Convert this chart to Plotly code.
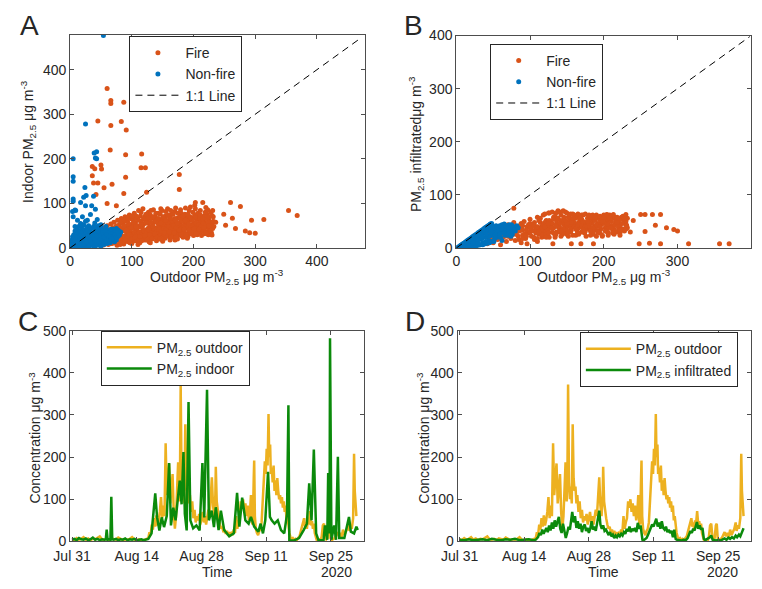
import pandas as pd
import plotly.graph_objects as go

# ---------------- Panel A: outdoor vs indoor ----------------
fire_a_pts = [
    (32,18),(34,8),(35,26),(37,12),(38,30),(40,6),(41,20),(42,34),(44,15),(45,27),
    (46,9),(47,38),(49,22),(50,14),(51,42),(52,30),(54,7),(55,18),(56,46),(57,26),
    (58,35),(59,12),(60,50),(61,22),(62,8),(63,40),(64,28),(65,16),(66,54),(67,33),
    (68,10),(69,45),(70,24),(71,58),(72,36),(73,14),(74,48),(75,28),(76,6),(77,62),
    (78,40),(79,20),(80,52),(81,32),(82,12),(83,66),(84,44),(85,26),(86,56),(87,9),
    (88,38),(89,70),(90,20),(91,48),(92,30),(93,60),(94,14),(95,42),(96,74),(97,25),
    (98,52),(99,35),(100,10),(101,64),(102,45),(103,22),(104,78),(105,32),(106,56),(107,16),
    (108,40),(109,68),(110,27),(111,84),(112,50),(113,12),(114,36),(115,60),(116,22),(117,46),
    (118,88),(119,30),(120,55),(121,18),(122,72),(123,40),(124,26),(125,62),(126,35),(127,80),
    (128,14),(129,48),(130,30),(131,66),(132,42),(133,20),(134,56),(135,86),(136,36),(137,24),
    (138,70),(139,45),(140,16),(141,58),(142,32),(143,78),(144,50),(145,26),(146,40),(147,64),
    (148,20),(149,84),(150,46),(151,30),(152,60),(153,38),(154,22),(155,72),(156,52),(157,34),
    (158,88),(159,44),(160,26),(161,64),(162,18),(163,54),(164,38),(165,76),(166,30),(167,48),
    (168,62),(169,24),(170,82),(171,42),(172,56),(173,32),(174,20),(175,68),(176,46),(177,36),
    (178,58),(179,28),(180,78),(181,50),(182,40),(183,24),(184,64),(185,34),(186,54),(187,44),
    (188,72),(189,30),(190,58),(191,26),(192,48),(193,84),(194,38),(195,62),(196,32),(197,52),
    (198,42),(199,68),(200,28),(201,56),(202,96),(203,36),(204,46),(205,64),(206,30),(207,74),
    (208,40),(209,54),(210,34),(211,60),(212,44),(213,28),(214,70),(215,50),(216,38),(217,58),
    (218,32),(219,66),(220,46),(221,36),(222,76),(223,54),(224,30),(225,62),(226,42),(227,48),
    (228,80),(229,34),(230,56),(231,44),(232,70),(110,8),(130,12),(150,15),(170,18),(190,22),
    (62,18),(66,24),(70,30),(74,20),(78,26),(82,34),(86,22),(90,28),(94,36),(98,24),
    (102,30),(106,38),(110,22),(114,28),(118,40),(122,32),(126,44),(130,36),(134,28),(138,40),
    (142,46),(146,34),(150,40),(154,48),(158,36),(162,42),(166,52),(170,38),(174,44),(178,48),
    (80,16),(88,14),(96,18),(104,16),(112,20),(120,24),(128,22),(136,26),(144,30),(152,26),
    (160,32),(168,28),(176,30),(184,38),(192,36),(200,40),(208,46),(216,42),(224,38),(100,44),
    (42,10),(48,16),(52,20),(56,12),(60,26),(64,20),(68,16),(72,22),(76,18),(80,24),
    (84,20),(88,26),(92,22),(96,30),(100,26),(104,34),(108,30),(112,34),(116,30),(120,38),
    (124,36),(128,40),(132,34),(136,44),(140,36),(144,42),(148,38),(152,44),(156,42),(160,48),
    (164,44),(168,50),(172,46),(176,52),(180,44),(184,50),(188,48),(192,54),(196,46),(200,50),
    (204,56),(208,52),(212,48),(216,56),(220,52),(224,58),(228,50),(232,60),(86,44),(94,50),
    (102,54),(110,46),(118,52),(126,56),(134,50),(142,56),(150,54),(158,58),(166,60),(174,56),
    (182,60),(190,66),(198,62),(206,68),(214,64),(222,66),(84,12),(92,16),(100,20),(108,18),
    (116,16),(124,18),(132,22),(140,24),(148,22),(156,28),(164,24),(172,26),(180,32),(188,30),
    (196,34),(204,32),(212,38),(220,34),(228,40),(106,66),(114,72),(122,64),(130,74),(138,62),
    (146,76),(154,68),(162,72),(170,66),(178,70),(186,76),(194,70),(202,74),(210,68),(218,72),
    (63,32),(67,38),(71,44),(75,34),(79,46),(83,38),(87,50),(91,40),(95,54),(99,46),
    (103,58),(107,48),(111,62),(115,52),(119,66),(123,56),(127,68),(131,58),(135,70),(139,60),
    (143,66),(147,56),(151,70),(155,62),(159,74),(163,66),(167,76),(171,62),(175,78),(179,66),
    (183,72),(187,62),(191,76),(195,68),(199,80),(203,70),(207,78),(211,74),(215,66),(219,80),
    (65,10),(73,12),(81,8),(89,18),(97,12),(105,24),(113,26),(121,28),(129,30),(137,32),
    (145,20),(153,34),(161,36),(169,34),(177,40),(185,42),(193,40),(201,44),(209,42),(217,46),
    (225,50),(233,48),(91,60),(99,66),(107,72),(115,80),(123,76),(131,84),(139,78),(147,88),
    (155,82),(163,84),(171,90),(179,86),(187,90),(195,92),(203,88),(211,84),(223,86),(226,70),
    (70,40),(76,50),(82,58),(88,62),(94,66),(100,72),(58,42),(54,30),(50,26),(46,20),
    (60,358),(66,331),(66,324),(66,275),(87,327),(83,284),(45,285),(91,265),(65,220),(90,209),
    (90,159),(116,211),(115,180),(122,180),(36,183),(40,178),(50,186),(51,177),(36,162),(45,146),
    (38,146),(68,143),(177,165),(177,131),(124,125),(87,122),(203,102),(260,102),(276,93),(249,76),
    (263,67),(252,51),(268,44),(294,62),(284,38),(291,34),(300,33),(314,64),(354,84),(368,73),
    (230,73),(236,58),(230,29),(215,102),(220,91),(231,84),(42,120),(55,135),(60,100),(75,95),
]
nonfire_a_pts = [
    (1,1),(2,3),(3,1),(4,5),(5,2),(6,7),(7,4),(8,1),(9,8),(10,5),
    (11,10),(12,3),(13,7),(14,12),(15,5),(16,9),(17,14),(18,2),(19,11),(20,16),
    (21,6),(22,13),(23,19),(24,9),(25,4),(26,17),(27,22),(28,11),(29,7),(30,20),
    (31,14),(32,25),(33,9),(34,18),(35,28),(36,12),(37,22),(38,5),(39,30),(40,16),
    (41,26),(42,10),(43,33),(44,20),(45,14),(46,30),(47,24),(48,8),(49,36),(50,18),
    (51,28),(52,12),(53,40),(54,22),(55,32),(56,16),(57,26),(58,44),(59,20),(60,36),
    (61,14),(62,30),(63,24),(64,40),(65,18),(66,34),(67,28),(68,22),(69,42),(70,32),
    (71,26),(72,38),(73,20),(74,30),(75,44),(76,35),(77,25),(78,40),(80,30),(82,36),
    (2,10),(3,18),(4,25),(5,14),(6,30),(7,22),(8,38),(9,16),(10,28),(11,42),
    (12,20),(13,34),(14,48),(15,26),(16,38),(17,55),(18,30),(19,44),(20,24),(21,36),
    (22,52),(23,30),(24,40),(25,60),(26,34),(27,46),(28,28),(29,40),(30,50),(32,36),
    (34,44),(36,32),(38,48),(40,38),(42,46),(44,40),(46,50),(48,42),(50,46),(52,38),
    (5,5),(10,2),(15,1),(20,3),(25,10),(30,2),(35,6),(40,3),(45,6),(50,4),
    (55,8),(60,10),(65,12),(70,16),(75,18),(12,6),(18,8),(24,13),(30,10),(36,8),
    (42,12),(48,14),(54,16),(60,20),(66,24),(72,14),(28,16),(34,24),(46,22),(56,28),
    (3,6),(6,3),(9,12),(11,4),(14,2),(16,18),(19,6),(22,9),(25,22),(27,14),
    (29,26),(31,4),(33,18),(35,12),(37,32),(39,22),(41,16),(43,28),(45,38),(47,16),
    (49,28),(51,20),(53,34),(55,24),(57,38),(59,30),(61,40),(63,28),(65,36),(67,20),
    (69,36),(71,40),(73,30),(75,24),(77,34),(79,28),(66,42),(58,48),(50,52),(40,56),
    (54,477),(25,278),(5,200),(5,160),(5,150),(5,110),(5,105),(8,85),(5,70),(39,213),
    (43,216),(41,202),(43,200),(24,136),(22,114),(26,118),(38,116),(17,102),(25,95),(35,95),
    (41,87),(9,84),(4,82),(12,62),(20,70),(28,62),(33,75),(44,64),(18,52),(8,48),
]
one_to_one_a = [0, 472]

# ---------------- Panel B: outdoor vs infiltrated ----------------
fire_b_pts = [
    (42,8),(44,20),(46,14),(48,30),(50,10),(52,24),(54,36),(56,16),(58,28),(60,6),
    (62,40),(64,20),(66,32),(68,12),(70,44),(72,26),(74,18),(76,36),(78,48),(80,14),
    (82,30),(84,22),(86,42),(88,10),(90,34),(92,50),(94,18),(96,40),(98,28),(100,54),
    (102,22),(104,44),(106,16),(108,36),(110,58),(112,26),(114,48),(116,20),(118,62),(120,34),
    (122,52),(124,24),(126,66),(128,42),(130,30),(132,58),(134,20),(136,46),(138,70),(140,36),
    (142,62),(144,26),(146,50),(148,68),(150,40),(152,22),(154,56),(156,34),(158,64),(160,46),
    (162,24),(164,60),(166,38),(168,52),(170,30),(172,62),(174,44),(176,22),(178,56),(180,36),
    (182,60),(184,48),(186,26),(188,40),(190,62),(192,32),(194,54),(196,44),(198,24),(200,60),
    (202,38),(204,50),(206,28),(208,62),(210,42),(212,34),(214,56),(216,46),(218,30),(220,52),
    (222,40),(224,58),(226,36),(228,48),(230,44),(232,38),(116,40),(126,38),(136,30),(146,44),
    (120,64),(125,66),(130,68),(135,66),(140,68),(145,70),(150,66),(155,64),(160,62),(165,64),
    (170,62),(175,64),(180,62),(185,62),(190,60),(195,60),(200,62),(205,62),(210,60),(215,58),
    (120,48),(128,50),(136,52),(144,48),(152,50),(160,48),(168,46),(176,48),(184,46),(192,46),
    (110,18),(118,22),(126,20),(134,24),(142,22),(150,26),(158,24),(166,26),(174,28),(182,24),
    (190,22),(198,22),(206,24),(214,26),(222,28),(60,18),(70,22),(80,26),(90,24),(100,30),
    (104,32),(108,28),(112,38),(118,30),(124,34),(132,38),(140,40),(148,34),(156,40),(164,32),
    (172,38),(180,42),(188,34),(196,36),(204,40),(212,42),(220,38),(228,32),(86,32),(94,26),
    (45,26),(48,18),(52,32),(55,22),(58,40),(62,28),(65,38),(68,24),(72,34),(75,42),
    (78,28),(82,38),(85,16),(88,46),(92,26),(95,34),(98,44),(102,38),(106,48),(110,32),
    (114,56),(118,44),(122,26),(126,52),(130,46),(134,60),(138,40),(142,52),(146,58),(150,32),
    (154,44),(158,52),(162,56),(166,48),(170,54),(174,36),(178,42),(182,52),(186,56),(190,40),
    (194,46),(198,54),(202,56),(206,44),(210,50),(214,36),(218,58),(222,46),(226,54),(230,50),
    (105,20),(115,26),(125,28),(135,26),(145,28),(155,30),(165,28),(175,32),(185,30),(195,28),
    (205,30),(215,32),(225,34),(108,40),(124,44),(140,46),(156,48),(172,50),(188,52),(204,54),
    (220,56),(112,52),(132,54),(152,58),(168,58),(184,58),(200,56),(216,50),(226,60),(232,56),
    (55,30),(60,34),(65,26),(70,30),(75,24),(80,34),(85,40),(90,42),(95,22),(100,38),
    (105,44),(110,40),(115,34),(120,40),(125,46),(130,38),(135,42),(140,30),(145,36),(150,46),
    (155,36),(160,40),(165,44),(170,42),(175,40),(180,46),(185,38),(190,44),(195,40),(200,46),
    (205,36),(210,38),(215,44),(220,42),(225,46),(230,36),(112,30),(122,20),(132,28),(142,32),
    (152,30),(162,36),(172,34),(182,32),(192,30),(202,32),(212,28),(222,24),(100,46),(90,18),
    (138,56),(148,52),(158,56),(168,56),(178,50),(188,58),(198,50),(208,56),(218,48),(228,56),
    (250,63),(256,63),(266,63),(277,63),(270,43),(256,31),(285,38),(295,35),(300,32),(248,8),
    (262,9),(277,8),(315,8),(357,8),(370,8),(204,63),(213,63),(230,63),(231,43),(222,34),
    (78,75),(131,8),(156,8),(169,8),(186,8),(50,15),(240,52),(236,30),(96,8),(110,12),
]
nonfire_b_pts = [
    (2,1),(4,3),(6,5),(8,7),(10,9),(12,11),(14,13),(16,15),(18,17),(20,19),
    (22,21),(24,23),(26,25),(28,27),(30,29),(32,31),(34,33),(36,35),(38,37),(40,39),
    (42,41),(44,43),(46,45),(48,46),(5,2),(8,4),(10,6),(12,3),(14,8),(16,10),
    (18,6),(20,12),(22,15),(24,8),(26,18),(28,12),(30,22),(32,16),(34,25),(36,10),
    (38,28),(40,20),(42,32),(44,14),(46,36),(48,24),(50,40),(52,30),(54,42),(56,20),
    (58,38),(60,28),(62,44),(64,34),(66,24),(68,40),(70,30),(72,44),(74,36),(76,26),
    (78,38),(80,32),(82,42),(55,35),(60,40),(65,45),(70,42),(75,44),(52,18),(62,14),
    (3,0.5),(6,1),(9,1),(12,1),(15,2),(18,2),(21,3),(24,3),(27,4),(30,5),
    (33,6),(36,6),(39,8),(42,9),(45,10),(48,12),(51,12),(20,6),(25,14),(30,8),
    (35,18),(40,12),(45,22),(50,26),(55,28),(60,20),(65,32),(70,36),(75,30),(80,40),
    (38,34),(42,36),(46,40),(50,34),(54,36),(58,32),(62,36),(66,38),(70,24),(74,22),
    (12,9),(16,12),(20,16),(24,18),(28,20),(32,26),(36,30),(40,32),(44,38),(48,40),
    (3,2),(7,5),(11,8),(15,11),(19,14),(23,17),(27,21),(31,24),(35,27),(39,30),
    (43,33),(47,35),(51,37),(55,40),(59,42),(63,40),(67,42),(71,38),(75,40),(79,35),
    (84,38),(17,4),(23,10),(29,16),(35,22),(41,26),(47,30),(53,24),(59,26),(65,28),
]
one_to_one_b = [0, 398]

# ---------------- Panels C and D: time series, (days after Jul 31 2020, µg m-3) ----------------
start_date = "2020-07-31"
outdoor_pts = [
    (0,5),(0.5,3),(1,8),(1.5,4),(2,6),(2.5,10),(3,4),(3.5,7),(4,3),(4.5,6),(5,5),(5.5,8),
    (6,12),(6.5,5),(7,4),(7.5,6),(8,3),(8.5,7),(9,5),(9.5,4),(10,9),(10.5,6),(11,3),(11.5,5),
    (12,4),(12.5,6),(13,10),(13.5,4),(14,3),(14.5,5),(15,2),(15.5,3),(16,5),
    (16.5,8),(16.75,22),(17.0,15),(17.25,40),(17.5,28),(17.75,55),(18.0,35),(18.25,62),(18.5,38),(18.75,50),
    (19.0,70),(19.25,105),(19.5,55),(19.75,85),(20.0,60),(20.25,233),(20.5,110),(20.75,150),(21.0,185),(21.25,90),
    (21.5,120),(21.75,160),(22.0,70),(22.25,30),(22.5,60),(22.75,120),(22.95,188),(23.2,95),(23.35,150),(23.5,372),
    (23.7,140),(23.9,100),(24.1,130),(24.3,90),(24.5,278),(24.7,150),(24.9,120),(25.1,130),(25.3,90),(25.5,110),
    (25.75,70),(26.0,95),(26.25,55),(26.5,75),(26.75,45),(27.0,60),(27.25,50),(27.5,65),(27.75,40),(28.0,55),
    (28.25,70),(28.5,45),(28.75,60),(29.0,40),(29.25,55),(29.5,75),(29.75,60),(30.0,100),(30.25,152),(30.5,85),
    (30.75,60),(31.0,110),(31.1,177),(31.3,95),(31.5,70),(31.75,55),(32.0,40),(32.25,30),(32.5,35),(32.75,22),
    (33.0,28),(33.25,18),(33.5,25),(33.75,15),(34.0,22),(34.25,14),(34.5,20),(34.75,18),(35.0,28),(35.25,20),
    (35.5,60),(35.75,30),(36.0,45),(36.25,55),(36.5,95),(36.75,80),(37.0,100),(37.25,70),(37.5,90),(37.75,60),
    (38.0,85),(38.25,50),(38.5,70),(38.7,110),(38.9,45),(39.1,40),(39.3,150),(39.4,192),(39.55,60),(39.75,30),
    (40.0,20),(40.25,15),(40.5,25),(40.75,30),(41.0,45),(41.25,90),(41.45,150),(41.7,190),(41.9,160),(42.1,220),
    (42.3,180),(42.5,302),(42.65,200),(42.85,230),(43.0,160),(43.2,175),(43.4,140),(43.6,180),(43.8,120),(44.0,145),
    (44.2,110),(44.4,150),(44.6,120),(44.8,100),(45.0,110),(45.2,90),(45.4,105),(45.6,80),(45.8,95),(46.0,70),
    (46.2,85),(46.4,50),(46.6,60),(46.8,35),(47.0,20),(47.25,10),(47.5,6),(47.75,8),(48.0,4),(48.3,6),
    (48.6,3),(48.9,8),(49.2,12),(49.5,25),(49.75,35),(50.0,50),(50.2,55),(50.4,35),(50.6,45),(50.8,30),
    (51.0,50),(51.2,40),(51.45,72),(51.7,38),(51.9,48),(52.1,30),(52.3,42),(52.5,20),(52.7,8),(52.9,4),
    (53.2,3),(53.5,5),(53.8,4),(54.0,12),(54.25,38),(54.5,42),(54.75,12),(55.0,5),(55.25,8),(55.5,38),
    (55.7,42),(55.9,8),(56.2,3),(56.5,5),(56.8,8),(57.1,15),(57.4,22),(57.7,12),(58.0,20),(58.3,10),
    (58.6,28),(58.9,15),(59.2,22),(59.5,30),(59.8,45),(60.0,25),(60.3,38),(60.5,30),(60.8,55),(61.0,208),
    (61.15,120),(61.3,80),(61.5,60),
]
indoor_pts = [
    (0,4),(0.5,6),(1,3),(1.5,8),(2,5),(2.5,4),(3,7),(3.5,3),(4,5),(4.5,9),(5,4),(5.5,6),(6,3),(6.5,5),(7,4),
    (7.3,5),(7.5,28),(7.7,4),(8,5),(8.3,4),(8.5,106),(8.7,5),(9,4),(9.5,6),(10,3),(10.5,5),(11,4),(11.5,7),
    (12,3),(12.5,5),(13,4),(13.5,6),(14,3),(14.5,4),(15,5),(15.5,3),(16,4),(16.5,6),(17.2,19),
    (18.0,114),(18.4,57),(18.9,26),(19.4,57),(19.9,34),(20.5,61),(21.0,186),(21.4,38),(21.9,80),(22.4,50),
    (23.3,144),(23.7,88),(24.1,212),(24.4,65),(24.8,26),(25.2,331),(25.6,50),(26.2,31),(26.9,38),(27.6,26),
    (28.2,186),(28.6,57),(29.2,360),(29.6,50),(30.2,73),(30.7,34),(31.1,81),(31.7,27),(32.2,73),(32.9,27),
    (34.0,12),(35.0,19),(35.7,115),(36.2,35),(36.8,104),(37.5,50),(38.2,42),(38.7,58),(39.4,35),(40.3,23),
    (40.8,42),(41.3,19),(41.8,50),(42.4,165),(42.8,58),(43.2,50),(43.8,42),(44.5,50),(45.2,27),(45.9,19),
    (46.5,65),(46.8,323),(47.0,3),(48.0,2),(49.1,8),(50.1,27),(50.8,42),(51.3,138),(51.8,50),(52.3,218),
    (52.8,19),(53.3,3),(54.4,3),(54.7,38),(55.2,4),(55.4,162),(55.7,19),(55.8,482),(56.1,4),(56.7,38),
    (57.1,4),(57.5,201),(57.8,8),(58.9,8),(59.9,58),(60.3,23),(61.0,19),(61.5,35),(61.8,27),
]
infil_pts = [
    (0,4),(1,3),(2,5),(3,3),(4,4),(5,5),(6,3),(7,6),(8,4),(9,3),(10,5),(11,4),(12,6),(13,3),(14,4),
    (15,5),(16,3),(16.5,4),
    (17.0,10),(17.3,20),(17.6,15),(17.9,28),(18.2,18),(18.5,24),(18.8,32),(19.1,22),(19.4,38),(19.7,26),
    (20.0,45),(20.3,30),(20.6,50),(20.9,35),(21.2,45),(21.5,58),(21.8,30),(22.1,20),(22.4,42),(22.7,25),
    (23.0,8),(23.3,20),(23.6,35),(23.9,28),(24.2,55),(24.4,70),(24.7,45),(25.0,60),(25.3,32),(25.6,48),
    (25.9,30),(26.2,42),(26.5,22),(26.8,35),(27.1,40),(27.4,25),(27.7,32),(28.0,20),(28.3,30),(28.6,48),
    (28.9,28),(29.2,35),(29.5,25),(29.8,45),(30.1,55),(30.25,73),(30.5,40),(30.8,30),(31.1,38),(31.4,25),
    (31.7,28),(32.0,20),(32.3,15),(32.6,22),(32.9,12),(33.2,16),(33.5,8),(33.8,14),(34.1,10),(34.4,16),
    (34.7,12),(35.0,18),(35.3,14),(35.6,22),(35.9,18),(36.2,30),(36.5,24),(36.8,35),(37.1,22),(37.4,30),
    (37.7,25),(38.0,32),(38.3,22),(38.6,44),(38.9,30),(39.2,38),(39.4,20),(39.6,4),(39.9,3),(40.2,5),
    (40.5,8),(40.8,15),(41.1,22),(41.4,30),(41.7,40),(42.0,35),(42.3,48),(42.6,54),(42.9,35),(43.2,45),
    (43.5,30),(43.8,48),(44.1,32),(44.4,28),(44.7,35),(45.0,22),(45.3,28),(45.6,20),(45.9,25),(46.2,10),
    (46.5,28),(46.8,6),(47.1,4),(47.5,3),(48.0,2),(48.5,4),(49.0,3),(49.4,8),(49.7,18),(50.0,25),
    (50.3,20),(50.6,30),(50.9,26),(51.2,40),(51.4,46),(51.7,30),(52.0,38),(52.3,28),(52.6,32),(52.9,6),
    (53.2,3),(54.2,10),(54.5,14),(54.8,4),(55.5,2),(56.0,3),(56.5,2),(57.0,5),(57.4,7),(57.8,4),
    (58.2,9),(58.6,6),(59.0,10),(59.4,7),(59.8,14),(60.1,10),(60.5,16),(60.8,12),(61.1,22),(61.3,28),
    (61.5,31),
]
time_tick_vals = ["2020-07-31", "2020-08-14", "2020-08-28", "2020-09-11", "2020-09-25"]
time_tick_text = ["Jul 31", "Aug 14", "Aug 28", "Sep 11", "Sep 25"]
time_range = ["2020-07-30 14:00", "2020-10-02 04:00"]

# ---------------- styles ----------------
ORANGE = "#D95319"
BLUE = "#0072BD"
YELLOW = "#EDB120"
GREEN = "#0B8A0B"
TXT = "#262626"
AXC = "#4d4d4d"
FONT = "Liberation Sans, Arial, Helvetica, sans-serif"
FS = 14
W, H = 762, 589
MS = 5


def unzip(pts):
    return [p[0] for p in pts], [p[1] for p in pts]


def to_dates(days):
    t0 = pd.Timestamp(start_date)
    return [t0 + pd.to_timedelta(d, unit="D") for d in days]


def px(xp):
    return xp / W


def py(yp):
    return 1 - yp / H


fig = go.Figure()

# Panel A
x, y = unzip(fire_a_pts)
fig.add_trace(go.Scatter(x=x, y=y, mode="markers", name="Fire", legend="legend",
                         marker=dict(color=ORANGE, size=MS), xaxis="x", yaxis="y"))
x, y = unzip(nonfire_a_pts)
fig.add_trace(go.Scatter(x=x, y=y, mode="markers", name="Non-fire", legend="legend",
                         marker=dict(color=BLUE, size=MS), xaxis="x", yaxis="y"))
fig.add_trace(go.Scatter(x=one_to_one_a, y=one_to_one_a, mode="lines", name="1:1 Line", legend="legend",
                         line=dict(color="black", width=1, dash="7px,5px"), xaxis="x", yaxis="y"))

# Panel B
x, y = unzip(fire_b_pts)
fig.add_trace(go.Scatter(x=x, y=y, mode="markers", name="Fire", legend="legend2",
                         marker=dict(color=ORANGE, size=MS), xaxis="x2", yaxis="y2"))
x, y = unzip(nonfire_b_pts)
fig.add_trace(go.Scatter(x=x, y=y, mode="markers", name="Non-fire", legend="legend2",
                         marker=dict(color=BLUE, size=MS), xaxis="x2", yaxis="y2"))
fig.add_trace(go.Scatter(x=one_to_one_b, y=one_to_one_b, mode="lines", name="1:1 Line", legend="legend2",
                         line=dict(color="black", width=1, dash="7px,5px"), xaxis="x2", yaxis="y2"))

# Panel C
d, v = unzip(outdoor_pts)
fig.add_trace(go.Scatter(x=to_dates(d), y=v, mode="lines",
                         name="PM<sub>2.5</sub> outdoor", legend="legend3",
                         line=dict(color=YELLOW, width=2.5), xaxis="x3", yaxis="y3"))
d2, v2 = unzip(indoor_pts)
fig.add_trace(go.Scatter(x=to_dates(d2), y=v2, mode="lines",
                         name="PM<sub>2.5</sub> indoor", legend="legend3",
                         line=dict(color=GREEN, width=2.5), xaxis="x3", yaxis="y3"))

# Panel D
fig.add_trace(go.Scatter(x=to_dates(d), y=v, mode="lines",
                         name="PM<sub>2.5</sub> outdoor", legend="legend4",
                         line=dict(color=YELLOW, width=2.5), xaxis="x4", yaxis="y4"))
d3, v3 = unzip(infil_pts)
fig.add_trace(go.Scatter(x=to_dates(d3), y=v3, mode="lines",
                         name="PM<sub>2.5</sub> infiltrated", legend="legend4",
                         line=dict(color=GREEN, width=2.5), xaxis="x4", yaxis="y4"))

common = dict(showline=True, linecolor=AXC, linewidth=1, mirror="ticks", ticks="inside",
              ticklen=4, tickcolor=AXC, showgrid=False, zeroline=False,
              tickfont=dict(size=FS, color=TXT, family=FONT))

fig.update_layout(
    width=W, height=H, autosize=False, margin=dict(l=0, r=0, t=0, b=0, pad=0),
    paper_bgcolor="white", plot_bgcolor="white",
    font=dict(family=FONT, color=TXT, size=FS),
    xaxis=dict(common, domain=[px(54.3), px(356)], range=[0, 478], tickvals=[0, 100, 200, 300, 400], anchor="y"),
    yaxis=dict(common, domain=[py(246.7), py(27.7)], range=[0, 478], tickvals=[0, 100, 200, 300, 400], anchor="x"),
    xaxis2=dict(common, domain=[px(449.3), px(751)], range=[0, 400], tickvals=[0, 100, 200, 300, 400], anchor="y2"),
    yaxis2=dict(common, domain=[py(246.7), py(28.3)], range=[0, 400], tickvals=[0, 100, 200, 300, 400], anchor="x2"),
    xaxis3=dict(common, domain=[px(54.3), px(355)], type="date", range=time_range,
                tickvals=time_tick_vals, ticktext=time_tick_text, anchor="y3", ticklabelstandoff=2),
    yaxis3=dict(common, domain=[py(548.3), py(331.7)], range=[0, 500], dtick=100, anchor="x3"),
    xaxis4=dict(common, domain=[px(450.7), px(751)], type="date", range=time_range,
                tickvals=time_tick_vals, ticktext=time_tick_text, anchor="y4", ticklabelstandoff=2),
    yaxis4=dict(common, domain=[py(548.3), py(331.7)], range=[0, 500], dtick=100, anchor="x4"),
)

leg_common = dict(xanchor="left", yanchor="top", bgcolor="white", bordercolor=TXT, borderwidth=1,
                  font=dict(size=FS, color=TXT, family=FONT), itemwidth=45)
fig.update_layout(
    legend=dict(leg_common, x=px(115), y=py(29)),
    legend2=dict(leg_common, x=px(484), y=py(37)),
    legend3=dict(leg_common, x=px(85.7), y=py(331.7)),
    legend4=dict(leg_common, x=px(575.7), y=py(333.3)),
)

ann = []


def add_text(text, xp, yp, size=FS, angle=0, xanchor="center"):
    ann.append(dict(text=text, x=px(xp), y=py(yp), xref="paper", yref="paper", showarrow=False,
                    xanchor=xanchor, yanchor="middle", textangle=angle, borderpad=0,
                    font=dict(size=size, color=TXT, family=FONT)))


# panel letters
add_text("A", 2, 18.5, size=28, xanchor="left")
add_text("B", 395, 18.5, size=28, xanchor="left")
add_text("C", 0, 322.5, size=28, xanchor="left")
add_text("D", 396, 322.5, size=28, xanchor="left")
# axis titles
add_text("Outdoor PM<sub>2.5</sub> μg m<sup>-3</sup>", 205, 277)
add_text("Indoor PM<sub>2.5</sub> μg m<sup>-3</sup>", 12, 137, angle=-90)
add_text("Outdoor PM<sub>2.5</sub> μg m<sup>-3</sup>", 600, 277)
add_text("PM<sub>2.5</sub> infiltratedμg m<sup>-3</sup>", 408, 140, angle=-90)
add_text("Concentration μg m<sup>-3</sup>", 18, 442, angle=-90)
add_text("Concentration μg m<sup>-3</sup>", 415, 442, angle=-90)
add_text("Time", 205, 580)
add_text("Time", 600, 580)
add_text("2020", 327, 580)
add_text("2020", 722, 580)
fig.update_layout(annotations=ann)

fig.write_html("out.html", config={"displayModeBar": False},
               post_script="document.documentElement.style.margin='0';document.body.style.margin='0';")
